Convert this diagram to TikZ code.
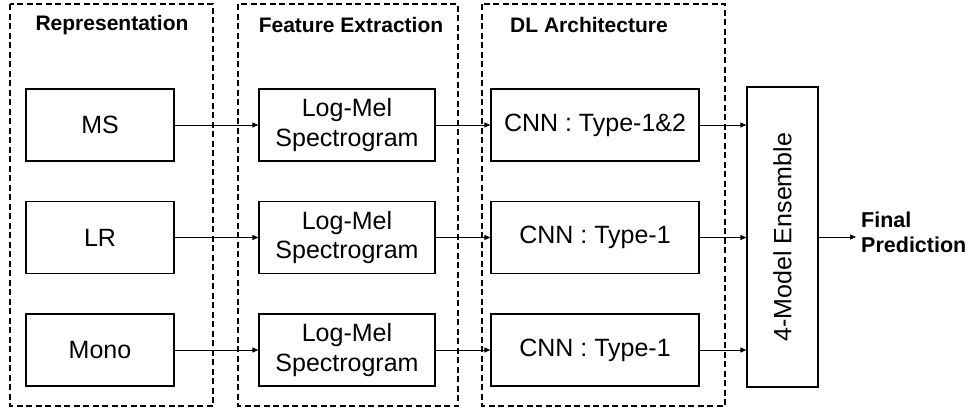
\documentclass[tikz,border=0pt]{standalone}
\usepackage{fontspec}
\setmainfont{Liberation Sans}
\usetikzlibrary{arrows.meta}
\begin{document}
\begin{tikzpicture}[x=1pt,y=-1pt,
  stage/.style={draw, line width=1.6pt, dash pattern=on 6pt off 3.5pt},
  blk/.style={draw, line width=1.3pt, inner sep=0pt, align=center,
    font=\fontsize{25}{29.5}\selectfont},
  hdr/.style={font=\fontsize{21}{24}\bfseries\selectfont, anchor=center},
  arr/.style={-{Triangle[length=6pt,width=5pt]}, line width=1pt}]
\useasboundingbox (0,0) rectangle (969,408);
% stage frames
\draw[stage] (10,4) rectangle (213,406);
\draw[stage] (238,4) rectangle (458,406);
\draw[stage] (482,4) rectangle (725,406);
\node[hdr] (h1) at (112,25) {Representation};
\node[hdr] (h2) at (351,25) {Feature Extraction};
\node[hdr] (h3) at (589,25) {DL Architecture};
% representation
\node[blk, minimum width=148pt, minimum height=72pt] (ms) at (100,125) {MS};
\node[blk, minimum width=148pt, minimum height=72pt] (lr) at (100,237.5) {LR};
\node[blk, minimum width=148pt, minimum height=72pt] (mono) at (100,350) {Mono};
% features
\node[blk, minimum width=176pt, minimum height=72pt] (f1) at (347,125) {Log-Mel\\Spectrogram};
\node[blk, minimum width=176pt, minimum height=72pt] (f2) at (347,237.5) {Log-Mel\\Spectrogram};
\node[blk, minimum width=176pt, minimum height=72pt] (f3) at (347,350) {Log-Mel\\Spectrogram};
% CNN
\node[blk, minimum width=208pt, minimum height=72pt] (c1) at (595,125) {CNN : Type-1\&2};
\node[blk, minimum width=208pt, minimum height=72pt] (c2) at (595,237.5) {CNN : Type-1};
\node[blk, minimum width=208pt, minimum height=72pt] (c3) at (595,350) {CNN : Type-1};
% ensemble
\node[blk, minimum width=71pt, minimum height=300pt] (ens) at (782.5,237) {};
\node[font=\fontsize{25}{28}\selectfont, rotate=90] (enst) at (ens.center) {4-Model Ensemble};
\node[font=\fontsize{21.5}{25}\bfseries\selectfont, align=left, anchor=west, inner sep=0pt] (fp) at (861,232) {Final\\Prediction};
\coordinate (fpin) at (856,237);
% arrows
\foreach \a/\b in {ms/f1, lr/f2, mono/f3, f1/c1, f2/c2, f3/c3}
  \draw[arr] (\a.east) -- (\b.west);
\draw[arr] (c1.east) -- (c1.east -| ens.west);
\draw[arr] (c2.east) -- (c2.east -| ens.west);
\draw[arr] (c3.east) -- (c3.east -| ens.west);
\draw[arr] (ens.east) -- (fpin);
\end{tikzpicture}
\end{document}
